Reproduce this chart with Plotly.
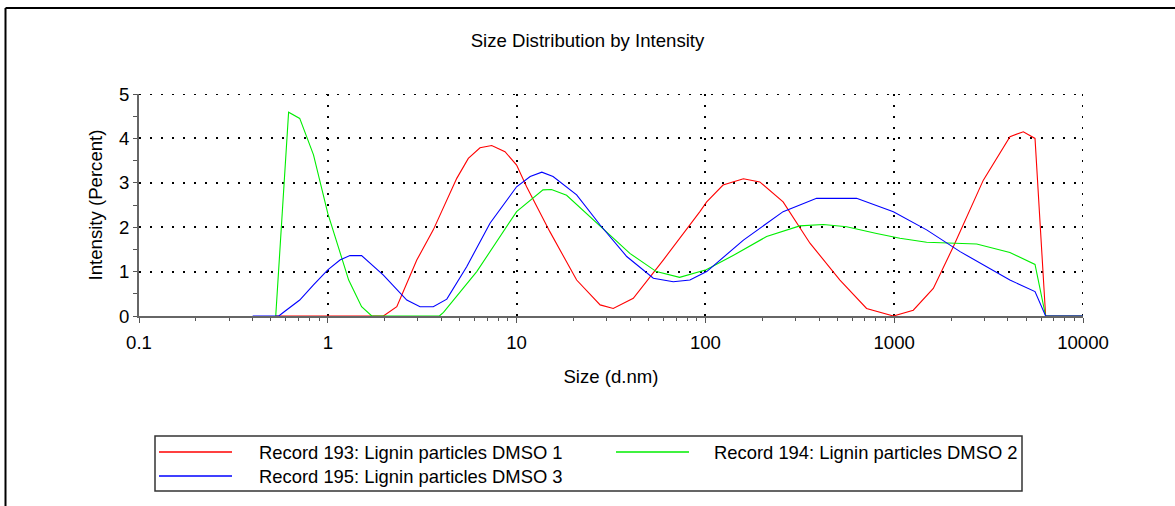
import plotly.graph_objects as go

# ---------------- data ----------------
red_size = [0.53, 1.97, 2.32, 2.96, 3.62, 4.44, 4.82, 5.55, 6.4, 7.38, 8.68, 10, 11.3, 15.0,
            20.8, 27.7, 32.5, 41.5, 59.8, 93.5, 101.6, 124, 159, 194, 258, 358, 516, 714,
            990, 1262, 1611, 2056, 2965, 4104, 4830, 5570, 6340, 10000]
red_int = [0, 0, 0.21, 1.26, 1.94, 2.76, 3.1, 3.55, 3.79, 3.84, 3.7, 3.4, 2.91, 1.9,
           0.81, 0.25, 0.17, 0.4, 1.26, 2.35, 2.57, 2.95, 3.09, 3.02, 2.57, 1.64, 0.81, 0.17,
           0, 0.13, 0.62, 1.56, 3.06, 4.04, 4.15, 4.0, 0, 0]

green_size = [0.53, 0.62, 0.71, 0.84, 1.0, 1.29, 1.51, 1.71, 3.9, 4.1, 6.15, 10, 13.8, 15.3,
              18.4, 26.5, 39.8, 55, 73, 101, 141, 211, 316, 421, 560, 807, 1072, 1485,
              2735, 4100, 5570, 6340, 10000]
green_int = [0, 4.59, 4.45, 3.63, 2.31, 0.81, 0.21, 0, 0, 0.08, 1.0, 2.35, 2.84, 2.85,
             2.72, 2.09, 1.41, 1.0, 0.87, 1.04, 1.37, 1.79, 2.03, 2.06, 2.01, 1.86, 1.75, 1.66,
             1.62, 1.43, 1.16, 0, 0]

blue_size = [0.40, 0.55, 0.59, 0.71, 0.84, 1.0, 1.16, 1.31, 1.51, 1.97, 2.62, 3.08, 3.62, 4.27,
             5.44, 7.23, 10, 11.8, 13.6, 15.6, 20.8, 27.7, 38.3, 53, 67.6, 82.8, 101.6, 135,
             159, 258, 388, 632, 990, 1485, 2234, 4100, 5570, 6340, 10000]
blue_int = [0, 0, 0.1, 0.36, 0.7, 1.04, 1.26, 1.36, 1.36, 0.92, 0.36, 0.21, 0.21, 0.38,
            1.11, 2.09, 2.91, 3.14, 3.24, 3.14, 2.73, 2.05, 1.34, 0.85, 0.77, 0.81, 1.0, 1.45,
            1.71, 2.35, 2.65, 2.65, 2.35, 1.94, 1.45, 0.81, 0.55, 0, 0]

names = ["Record 193: Lignin particles DMSO 1",
         "Record 194: Lignin particles DMSO 2",
         "Record 195: Lignin particles DMSO 3"]
colors = ["#ff0000", "#00ee00", "#0000ff"]

x_major = [0.1, 1, 10, 100, 1000, 10000]
x_major_text = ["0.1", "1", "10", "100", "1000", "10000"]
x_minor = [m * d for d in [0.1, 1, 10, 100, 1000] for m in range(2, 10)]
y_major = [0, 1, 2, 3, 4, 5]

# ---------------- layout geometry (pixels) ----------------
W, H = 1175, 506
L, R, T, B = 139, 1083, 94, 316
PW, PH = R - L, B - T


def px(x):
    return (x - L) / PW


def py(y):
    return (B - y) / PH


fig = go.Figure()
series = [(red_size, red_int), (green_size, green_int), (blue_size, blue_int)]
for (xs, ys), nm, c in zip(series, names, colors):
    fig.add_trace(go.Scatter(x=xs, y=ys, mode="lines", name=nm,
                             line=dict(color=c, width=1.1), showlegend=False))

FONT = "Liberation Sans, Arial, sans-serif"
fs = 18.6
GRID = dict(color="black", width=2, dash="2px,9px")

fig.update_layout(
    width=W, height=H,
    margin=dict(l=L, r=W - R, t=T, b=H - B, pad=0),
    paper_bgcolor="white", plot_bgcolor="white",
    font=dict(family=FONT, size=fs, color="black"),
    title=dict(text="Size Distribution by Intensity", x=0.5, xref="container",
               y=1 - 40 / H, yref="container", yanchor="middle", xanchor="center",
               font=dict(size=fs, color="black")),
)

fig.update_xaxes(
    type="log", range=[-1, 4],
    tickvals=x_major, ticktext=x_major_text,
    ticks="outside", ticklen=5, tickcolor="#555", tickwidth=1,
    ticklabelstandoff=4,
    showline=True, linecolor="#666", linewidth=2,
    showgrid=True, gridcolor=GRID["color"], gridwidth=GRID["width"], griddash=GRID["dash"],
    zeroline=False,
    minor=dict(tickvals=x_minor, ticks="outside", ticklen=3, tickcolor="#555",
               showgrid=False),
    title=dict(text="Size (d.nm)", standoff=18, font=dict(size=fs)),
    tickfont=dict(size=fs),
)
fig.update_yaxes(
    range=[0, 5],
    tickvals=y_major,
    ticks="outside", ticklen=4, tickcolor="#555", tickwidth=1,
    showline=True, linecolor="#666", linewidth=2,
    showgrid=True, gridcolor=GRID["color"], gridwidth=GRID["width"], griddash=GRID["dash"],
    zeroline=False,
    minor=dict(dtick=0.5, ticks="outside", ticklen=4, tickcolor="#555", showgrid=False),
    title=dict(text="Intensity (Percent)", standoff=11, font=dict(size=fs)),
    tickfont=dict(size=fs),
)

shapes = []
# grid lines on the plot edges (top y=5, right x=10000), which plotly omits
shapes.append(dict(type="line", xref="paper", yref="y", x0=0, x1=1, y0=y_major[-1],
                   y1=y_major[-1], line=GRID, layer="below"))
shapes.append(dict(type="line", xref="x", yref="paper", x0=x_major[-1], x1=x_major[-1],
                   y0=0, y1=1, line=GRID, layer="below"))
# outer frame (left and top edges visible)
shapes.append(dict(type="line", xref="paper", yref="paper",
                   x0=px(5.5), x1=px(5.5), y0=py(8), y1=py(H + 5),
                   line=dict(color="black", width=2)))
shapes.append(dict(type="line", xref="paper", yref="paper",
                   x0=px(5.5), x1=px(W + 5), y0=py(8), y1=py(8),
                   line=dict(color="black", width=2)))
# legend box
shapes.append(dict(type="rect", xref="paper", yref="paper",
                   x0=px(155), x1=px(1022), y0=py(436), y1=py(491),
                   line=dict(color="#333", width=1.5), fillcolor="rgba(0,0,0,0)"))
legend_pos = [(159, 232, 452), (616, 689, 452), (159, 232, 476)]
text_x = [257, 712, 257]
annotations = []
for (x0, x1, yy), tx, nm, c in zip(legend_pos, text_x, names, colors):
    shapes.append(dict(type="line", xref="paper", yref="paper",
                       x0=px(x0), x1=px(x1), y0=py(yy), y1=py(yy),
                       line=dict(color=c, width=1.5)))
    annotations.append(dict(text=nm, xref="paper", yref="paper", x=px(tx), y=py(yy),
                            xanchor="left", yanchor="middle", showarrow=False,
                            font=dict(size=fs - 0.2, color="black", family=FONT)))

fig.update_layout(shapes=shapes, annotations=annotations)

fig.write_html("out.html", config={"displayModeBar": False},
               post_script="document.body.style.margin='0';")
